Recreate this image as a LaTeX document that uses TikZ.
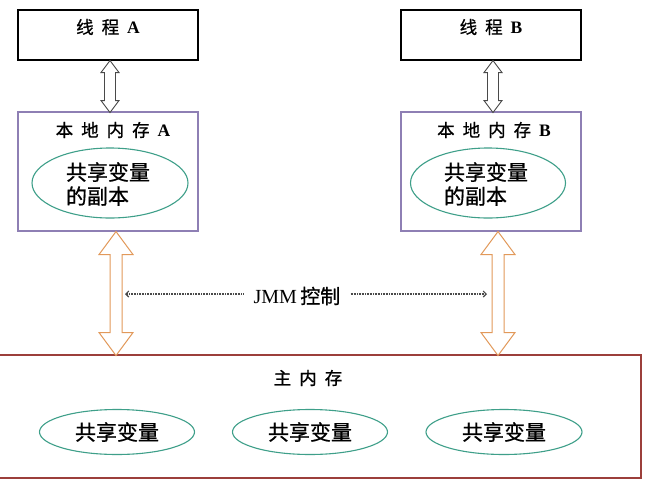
\documentclass[tikz,border=0pt]{standalone}
\usepackage{fontspec}
\setmainfont{Liberation Serif}
\newfontfamily\cjk{Noto Sans CJK SC}[FakeBold=0.8]
\usetikzlibrary{arrows.meta,shapes.geometric}
\definecolor{lavbox}{HTML}{8E7FB4}
\definecolor{tealring}{HTML}{3E9F89}
\definecolor{orangearr}{HTML}{E2995A}
\definecolor{mainred}{HTML}{9C3F3B}
\definecolor{grayarr}{HTML}{4A4A4A}
\newcommand\gp{\hspace{8pt}}
\newcommand\latin[1]{{\rmfamily\bfseries #1}}
\tikzset{
  threadbox/.style={draw=black, line width=1.1pt, minimum width=180pt, minimum height=50pt, inner sep=0pt},
  localbox/.style={draw=lavbox, line width=1.1pt, minimum width=180pt, minimum height=119pt, inner sep=0pt},
  mainbox/.style={draw=mainred, line width=1.1pt, minimum width=642pt, minimum height=123pt, inner sep=0pt},
  ring/.style={ellipse, draw=tealring, line width=1.1pt, inner sep=0pt},
  titletxt/.style={font=\cjk\fontsize{17.5}{20}\selectfont, inner sep=0pt},
  ringtxt/.style={font=\cjk\fontsize{21}{24}\selectfont, inner sep=0pt, align=left},
  grayarrow/.style={draw=grayarr, fill=white, line width=0.9pt, line join=miter},
  orangearrow/.style={draw=orangearr, fill=white, line width=1pt, line join=miter},
  jmmline/.style={draw=grayarr, dash pattern=on 0.8pt off 0.8pt, line width=1.1pt, -{Straight Barb[length=3pt,width=6pt]}}
}
% double-headed block arrow: style, top point, shaft length, head length, head half width, shaft half width
\newcommand\blockarrow[6]{%
  \draw[#1] (#2) -- ++(#5,#4) -- ++(-#5+#6,0) -- ++(0,#3) -- ++(#5-#6,0)
    -- ++(-#5,#4) -- ++(-#5,-#4) -- ++(#5-#6,0) -- ++(0,-#3) -- ++(-#5+#6,0) -- cycle;}
\begin{document}
\begin{tikzpicture}[x=1pt,y=-1pt]
\useasboundingbox (0,0) rectangle (649,491);
\fill[white] (0,0) rectangle (649,491);

% threads
\node[threadbox] (ta) at (108,35) {};
\node[titletxt] (tat) at (108,27) {线\gp 程\gp\latin{A}};
\node[threadbox] (tb) at (491,35) {};
\node[titletxt] (tbt) at (491,27) {线\gp 程\gp\latin{B}};

% local memories
\node[localbox] (la) at (108,171.5) {};
\node[titletxt] (lat) at (113,130) {本\gp 地\gp 内\gp 存\gp\latin{A}};
\node[ring, minimum width=156pt, minimum height=70pt] (ea) at (110,183) {};
\node[ringtxt] (eat) at (108,184) {共享变量\\的副本};

\node[localbox] (lb) at (491,171.5) {};
\node[titletxt] (lbt) at (494,130) {本\gp 地\gp 内\gp 存\gp\latin{B}};
\node[ring, minimum width=155pt, minimum height=70pt] (eb) at (488,183) {};
\node[ringtxt] (ebt) at (486,184) {共享变量\\的副本};

% main memory
\node[mainbox] (mm) at (320,416.5) {};
\node[titletxt] (mmt) at (308,378) {主\gp 内\gp 存};
\node[ring, minimum width=155pt, minimum height=45pt] (m1) at (117,432) {};
\node[ringtxt] at (m1) {共享变量};
\node[ring, minimum width=155pt, minimum height=45pt] (m2) at (310,432) {};
\node[ringtxt] at (m2) {共享变量};
\node[ring, minimum width=156pt, minimum height=45pt] (m3) at (504,432) {};
\node[ringtxt] at (m3) {共享变量};

% gray arrows thread <-> local
\coordinate (ga) at (ta.south -| 110,0);
\coordinate (gb) at (tb.south -| 493,0);
\blockarrow{grayarrow}{ga}{28}{12}{9}{5.5}
\blockarrow{grayarrow}{gb}{28}{12}{9}{5.5}

% orange arrows local <-> main
\coordinate (oa) at (la.south -| 116,0);
\coordinate (ob) at (lb.south -| 498,0);
\blockarrow{orangearrow}{oa}{78}{23}{17}{6}
\blockarrow{orangearrow}{ob}{78}{23}{17}{6}

% JMM control
\node[font=\fontsize{20}{23}\selectfont, inner sep=0pt] (jmm) at (297,296) {JMM\,{\cjk 控制}};
\coordinate (jl) at (125,294);
\coordinate (jr) at (487,294);
\draw[jmmline] ([xshift=-10pt]jmm.west |- jl) -- (jl);
\draw[jmmline] ([xshift=10pt]jmm.east |- jr) -- (jr);
\end{tikzpicture}
\end{document}
